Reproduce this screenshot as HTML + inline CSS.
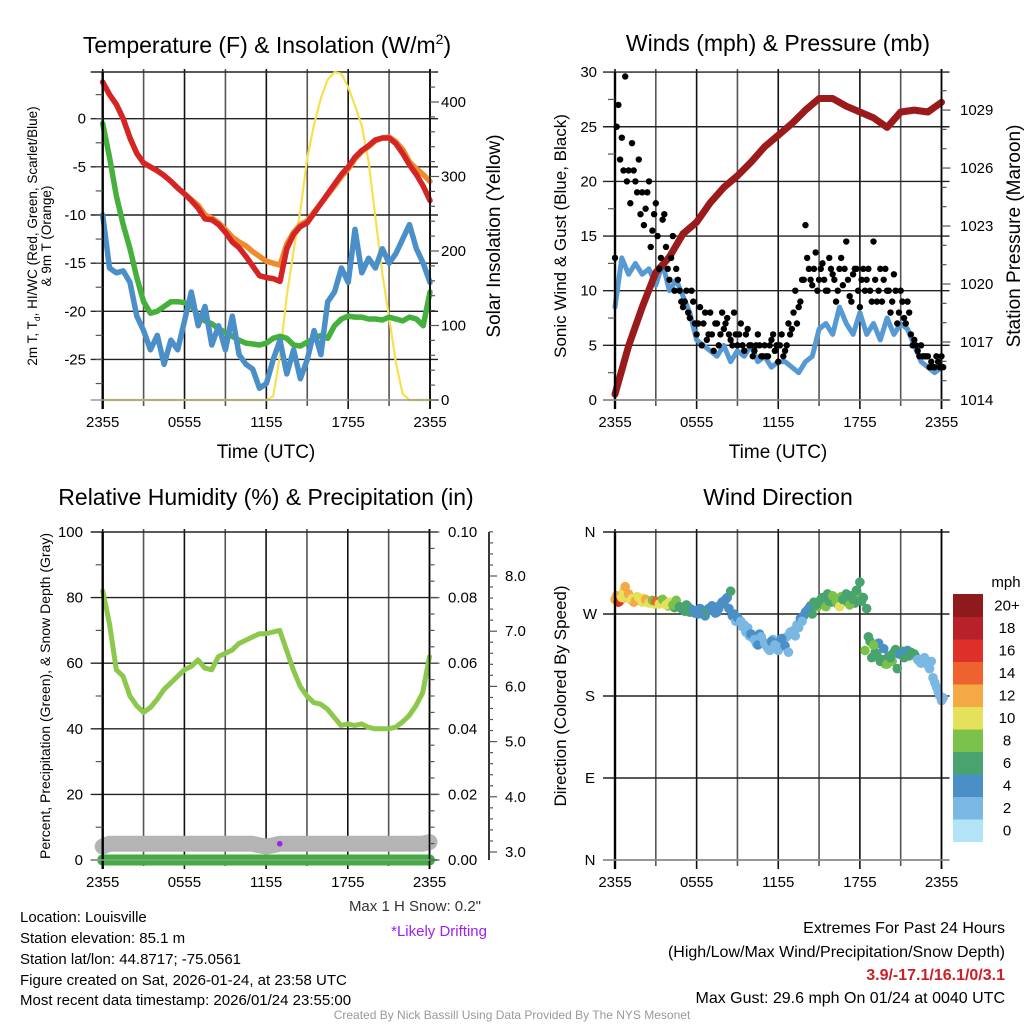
<!DOCTYPE html>
<html><head><meta charset="utf-8"><style>
html,body{margin:0;padding:0;background:#fff}
svg{display:block;font-family:"Liberation Sans",sans-serif}
</style></head><body>
<svg id="fig" width="1024" height="1024" viewBox="0 0 1024 1024" xmlns="http://www.w3.org/2000/svg">
<g id="grid"></g>
<g id="marks"></g>
<g id="axes"></g>
<g id="texts" fill="#000">
<text x="267" y="53" font-size="23" text-anchor="middle">Temperature (F) &amp; Insolation (W/m<tspan font-size="14" dy="-9">2</tspan><tspan dy="9">)</tspan></text>
<text x="778" y="51" font-size="23" text-anchor="middle">Winds (mph) &amp; Pressure (mb)</text>
<text x="266" y="505" font-size="23" text-anchor="middle">Relative Humidity (%) &amp; Precipitation (in)</text>
<text x="778" y="505" font-size="23" text-anchor="middle">Wind Direction</text>
<text x="266" y="458" font-size="19" text-anchor="middle">Time (UTC)</text>
<text x="778" y="458" font-size="19" text-anchor="middle">Time (UTC)</text>
<text transform="translate(37,236) rotate(-90)" font-size="13.5" text-anchor="middle">2m T, T<tspan font-size="8.5" dy="3">d</tspan><tspan dy="-3">, HI/WC (Red, Green, Scarlet/Blue)</tspan></text>
<text transform="translate(51,236) rotate(-90)" font-size="13.5" text-anchor="middle">&amp; 9m T (Orange)</text>
<text transform="translate(500,236) rotate(-90)" font-size="19" text-anchor="middle">Solar Insolation (Yellow)</text>
<text transform="translate(566,236) rotate(-90)" font-size="17" text-anchor="middle">Sonic Wind &amp; Gust (Blue, Black)</text>
<text transform="translate(1020,236) rotate(-90)" font-size="19" text-anchor="middle">Station Pressure (Maroon)</text>
<text transform="translate(50,696) rotate(-90)" font-size="14" text-anchor="middle">Percent, Precipitation (Green), &amp; Snow Depth (Gray)</text>
<text transform="translate(566,696) rotate(-90)" font-size="17" text-anchor="middle">Direction (Colored By Speed)</text>
<text x="481" y="911" font-size="15" fill="#333" text-anchor="end">Max 1 H Snow: 0.2"</text>
<text x="487" y="936" font-size="15" fill="#a020f0" text-anchor="end">*Likely Drifting</text>
<g font-size="15">
<text x="20" y="922">Location: Louisville</text>
<text x="20" y="943">Station elevation: 85.1 m</text>
<text x="20" y="964">Station lat/lon: 44.8717; -75.0561</text>
<text x="20" y="985">Figure created on Sat, 2026-01-24, at 23:58 UTC</text>
<text x="20" y="1005">Most recent data timestamp: 2026/01/24 23:55:00</text>
</g>
<g font-size="16" text-anchor="end">
<text x="1005" y="933">Extremes For Past 24 Hours</text>
<text x="1005" y="957">(High/Low/Max Wind/Precipitation/Snow Depth)</text>
<text x="1005" y="980" fill="#cc1f26" font-weight="bold">3.9/-17.1/16.1/0/3.1</text>
<text x="1005" y="1003">Max Gust: 29.6 mph On 01/24 at 0040 UTC</text>
</g>
<text x="512" y="1019" font-size="12" fill="#999" text-anchor="middle">Created By Nick Bassill Using Data Provided By The NYS Mesonet</text>
</g>
</svg>
<script>
// ---- data (half-hour steps, 0..24 h from 2355 UTC) ----
const timeLabels = ["2355","0555","1155","1755","2355"];
const tempRed = [3.8,2.5,1.5,0,-2,-3.6,-4.6,-5.0,-5.4,-5.9,-6.5,-7.2,-7.8,-8.5,-9.3,-10.4,-10.5,-11.0,-11.8,-12.8,-13.4,-14.3,-15.3,-16.3,-16.5,-16.6,-16.9,-13.5,-12.0,-11.2,-10.8,-9.8,-8.8,-7.8,-6.8,-5.8,-5.0,-4.0,-3.3,-2.8,-2.2,-2.0,-2.0,-2.6,-3.6,-4.8,-5.8,-7.0,-8.5];
const tempOrange = [3.8,2.5,1.5,0,-2,-3.6,-4.6,-5.0,-5.4,-5.9,-6.5,-7.2,-7.8,-8.4,-9.0,-10.0,-10.3,-10.8,-11.5,-12.3,-12.8,-13.2,-13.8,-14.3,-14.8,-15.0,-15.2,-13.0,-11.8,-11.0,-10.6,-9.7,-8.8,-7.9,-7.0,-6.0,-5.2,-4.2,-3.4,-2.9,-2.3,-2.0,-1.9,-2.4,-3.2,-4.5,-5.2,-5.8,-6.5];
const dewGreen = [-0.5,-4,-8,-11,-13.5,-16.5,-19,-20.2,-20.0,-19.5,-19.0,-19.0,-19.1,-19.4,-20.5,-21.0,-21.3,-21.8,-22.2,-22.6,-23.0,-23.3,-23.4,-23.5,-23.3,-22.8,-22.6,-22.8,-23.5,-23.6,-23.2,-22.8,-22.5,-22.8,-21.5,-20.8,-20.5,-20.6,-20.6,-20.8,-20.8,-20.9,-20.6,-20.8,-21,-20.6,-20.8,-21.5,-18];
const windChill = [-10,-15.5,-16,-15.8,-17,-20.5,-22,-24,-22.5,-25.5,-23,-24,-21,-18,-21.5,-19.5,-23.5,-21.5,-24,-20.5,-24.5,-25.5,-26,-28,-27.5,-25,-23,-26.5,-24,-27,-25,-22,-24.5,-19,-18,-15.5,-17,-11.5,-16,-14.5,-15.5,-13.5,-15,-14,-12.5,-11,-13.5,-15,-17];
const solar = [0,0,0,0,0,0,0,0,0,0,0,0,0,0,0,0,0,0,0,0,0,0,0,0,0,5,60,140,200,255,325,370,405,430,440,438,420,395,368,320,245,170,111,50,8,0,0,0,0];
const windSpeed = [8.5,13,11.5,12.5,11.5,12,10.5,12.5,10,11,9.5,8,5.5,5,4.5,4,5,3.5,4.5,4,5,3.5,4,3,3.5,3.5,3,2.5,3.5,4,6.5,7,6,8.5,7,6,8,6,7,5.5,7.5,6,7,6.5,5,3.5,3,2.5,3];
const pressure = [1014.3,1016.8,1018.8,1020.6,1021.4,1022.6,1023.2,1024.2,1025.0,1025.6,1026.3,1027.1,1027.7,1028.3,1029.0,1029.6,1029.6,1029.2,1028.9,1028.6,1028.1,1028.9,1029.0,1028.9,1029.4];
// gusts every 15 min
const gusts = [13,27,24,29.6,21,23.5,20,22,19,17.5,20,15.5,18,12,16.5,14,11,15,12,10,8.5,10,7.5,9,6,8.5,7,5.5,8,4.5,7,6,6.5,7.5,5.5,8,5,7,4.5,6.5,5,4.5,6,4,5,4,5.5,4.5,3.5,6,4.5,7,6.5,10,8.5,11,16,12,10.5,13.5,11,12.5,10,13,11.5,9,12,10.5,14.5,9.5,11.5,12,8.5,12,11,10,14.5,9,12,11,10,8,11.5,7,10,7.5,9,6,5.5,4.5,5,4,4,3.5,3,3.5,4];
const gusts2 = [25,22,21,20,18,21,19,17,16,19,14,17,15,13,17,12,13,10,11,9,9,8,10,7,7,5,8,6,6,7,5,8,7,6,5,6,6,5,6,5,4,5,5,4,4,5,6,5,5,4,5,6,8,7,9,11,13,11,12,10,12,11,10,12,11,10,13,12,11,9,12,10,11,10,12,9,11,10,9,12,10,9,10,8,9,7,8,5,5,4,4,4,3,3,4,3,3];
const relHum = [82,72,58,56,50,47,45,46.5,49,52,54,56,58,59,61,58.5,58,62,63,64,66,67,68,69,69,69.5,70,64,58,53,50,48,47.5,46,43.5,41,41.5,41,41.5,40.5,40,40,40,40.5,42,44,47,51,62];
const precip = [0,0,0,0,0,0,0,0,0,0,0,0,0,0,0,0,0,0,0,0,0,0,0,0,0,0,0,0,0,0,0,0,0,0,0,0,0,0,0,0,0,0,0,0,0,0,0,0,0];
const snowDepth = [3.1,3.15,3.15,3.15,3.15,3.15,3.15,3.15,3.15,3.15,3.15,3.15,3.15,3.15,3.15,3.15,3.15,3.15,3.15,3.15,3.15,3.15,3.15,3.12,3.1,3.12,3.15,3.15,3.15,3.15,3.15,3.15,3.15,3.15,3.15,3.15,3.15,3.15,3.15,3.15,3.15,3.15,3.15,3.15,3.15,3.15,3.15,3.15,3.18];
const driftHour = [13.0];
const driftDepth = [3.15];
// wind direction every 15 min (two interleaved sets)
const windDir = [286,283,288,300,292,287,284,288,283,286,282,285,284,281,286,280,283,280,285,278,276,280,272,274,272,276,270,273,275,278,272,280,282,288,295,270,266,262,258,255,248,242,236,245,238,232,240,236,230,243,235,228,250,246,255,262,272,276,270,280,282,288,278,284,290,284,278,286,292,280,286,296,305,288,276,240,236,225,218,232,215,222,228,210,226,222,230,228,226,220,216,222,214,218,195,185,175];
const dirSpeed = [12,17,11,12,12,11,12,10,10,12,10,9,14,10,9,10,10,9,8,7,6,6,7,4,4,4,4,6,4,4,4,4,4,5,6,4,4,2,2,3,4,3,4,3,2,2,4,3,2,4,4,3,2,2,2,3,4,4,6,6,7,6,8,6,8,8,10,6,6,8,6,6,6,6,6,6,8,6,6,4,8,6,6,6,4,6,4,6,6,2,2,2,2,2,2,2,2];
const windDir2 = [290,284,295,288,286,283,289,285,287,283,284,281,283,285,282,279,281,277,279,276,273,278,275,271,270,274,268,276,279,271,276,283,286,276,268,262,264,256,250,246,244,238,248,240,235,230,242,238,233,238,245,250,252,258,265,268,274,279,283,278,286,280,292,283,287,281,289,284,285,290,282,291,284,230,245,222,228,238,220,215,224,218,231,226,229,225,224,226,223,218,220,219,210,200,190,180,178];
const dirSpeed2 = [13,12,11,13,11,12,10,10,11,10,9,10,11,9,8,9,8,7,7,6,6,5,4,4,4,4,5,4,4,4,5,4,5,4,4,3,3,2,3,2,3,2,4,3,2,3,2,4,3,2,3,2,2,3,4,4,6,6,7,8,6,8,7,6,9,6,8,7,6,7,6,8,6,8,6,7,6,4,6,8,6,8,6,4,6,4,6,6,2,2,3,2,2,2,2,2,2];
const speedBins = ["0","2","4","6","8","10","12","14","16","18","20+"];
const binColors = ["#b3e3f7","#7ab8e3","#4a8fc6","#48a36f","#7ac24a","#e6e15a","#f5a945","#ee6230","#dc3028","#b8202a","#8f1a1c"];

const NS="http://www.w3.org/2000/svg";
function mk(tag, attrs, parent){const e=document.createElementNS(NS,tag);for(const k in attrs)e.setAttribute(k,attrs[k]);(parent||document.getElementById('marks')).appendChild(e);return e;}
const G=document.getElementById('grid'), A=document.getElementById('axes'), M=document.getElementById('marks');

const P1={x0:102.7,x1:430,y0:72,y1:400}, P2={x0:615,x1:941.5,y0:72,y1:400}, P3={x0:102.7,x1:429.5,y0:532,y1:860}, P4={x0:615,x1:941.5,y0:532,y1:860};
const xAt=(P,h)=>P.x0+(P.x1-P.x0)*h/24;
const yTemp=t=>118.7-t*9.63, ySolar=s=>400-s*0.745;
const yWind=w=>400-w*10.93, yPres=p=>400-(p-1014)*19.33;
const yRH=r=>860-r*3.28, yPrecip=p=>860-p*3280, ySnow=s=>852-(s-3)*55.2;
const yDir=d=>860-d*0.9111;

function pathFrom(arr,P,yf,step){let d='';arr.forEach((v,i)=>{d+=(i?'L':'M')+xAt(P,i*step).toFixed(1)+' '+yf(v).toFixed(1);});return d;}
function line(name,arr,P,yf,step,color,w){const e=mk('path',{d:pathFrom(arr,P,yf,step),fill:'none',stroke:color,'stroke-width':w,'stroke-linejoin':'round','stroke-linecap':'round'},M);

return e;}

function frame(P,hLines,nameP){
  for(let k=0;k<=8;k++){const x=xAt(P,k*3);const g=mk('line',{x1:x,x2:x,y1:P.y0-3,y2:P.y1+(k%2===0?9:6),stroke:k%2?'#555':'#111','stroke-width':1.6},G);
  
  }
  hLines.forEach(y=>{const g=mk('line',{x1:P.x0-12,x2:P.x1+8,y1:y,y2:y,stroke:'#222','stroke-width':1.4},G);
  
  });
  const l=mk('line',{x1:P.x0,x2:P.x0,y1:P.y0,y2:P.y1+9,stroke:'#000','stroke-width':2.4},A);
  
  
  const r=mk('line',{x1:P.x1,x2:P.x1,y1:P.y0-3,y2:P.y1+9,stroke:'#000','stroke-width':1.6},A);
  
  
  const b=mk('line',{x1:P.x0-12,x2:P.x1+8,y1:P.y1,y2:P.y1,stroke:'#999','stroke-width':1.4},A);
  
  
  timeLabels.forEach((t,k)=>{const e=mk('text',{x:xAt(P,k*6),y:P.y1+27,'font-size':15,'text-anchor':'middle'},A);e.textContent=t;
  
  });
}
function tickLabel(x,y,txt,anchor,size){const e=mk('text',{x:x,y:y+5,'font-size':size||15,'text-anchor':anchor},A);e.textContent=txt;

}
function tick(x1,x2,y){mk('line',{x1:x1,x2:x2,y1:y,y2:y,stroke:'#555','stroke-width':1.2},A);}

// Panel 1
frame(P1,[0,-5,-10,-15,-20,-25].map(yTemp).concat([72]),'temp');
[0,-5,-10,-15,-20,-25].forEach(t=>tickLabel(86,yTemp(t),String(t),'end'));
for(let t=2.5;t>-30;t-=2.5){tick(P1.x0-7,P1.x0,yTemp(t));}
for(let s=0;s<=440;s+=20){tick(P1.x1,P1.x1+(s%100===0?9:5),ySolar(s));}
[0,100,200,300,400].forEach(s=>tickLabel(441,ySolar(s),String(s),'start'));
// Panel 2
frame(P2,[0,5,10,15,20,25,30].map(yWind),'wind');
[0,5,10,15,20,25,30].forEach(w=>tickLabel(597,yWind(w),String(w),'end'));
for(let w=2.5;w<30;w+=5){tick(P2.x0-7,P2.x0,yWind(w));}
for(let p=1014;p<=1030;p+=1){tick(P2.x1,P2.x1+((p-1014)%3===0?9:5),yPres(p));}
[1014,1017,1020,1023,1026,1029].forEach(p=>tickLabel(960,yPres(p),String(p),'start'));
// Panel 3
frame(P3,[0,20,40,60,80,100].map(yRH),'humidity');
[0,20,40,60,80,100].forEach(r=>tickLabel(83,yRH(r),String(r),'end'));
for(let r=10;r<100;r+=20){tick(P3.x0-7,P3.x0,yRH(r));}
for(let p=0;p<=0.1001;p+=0.005){tick(P3.x1,P3.x1+(Math.round(p*1000)%20===0?10:5),yPrecip(p));}
["0.00","0.02","0.04","0.06","0.08","0.10"].forEach((t,k)=>tickLabel(448,yPrecip(k*0.02),t,'start'));
{const fa=mk('line',{x1:489,x2:489,y1:532,y2:860,stroke:'#222','stroke-width':1.8},A);


for(let s=3;s<=8.9;s+=0.2){tick(489,489+(Math.abs(s-Math.round(s))<0.01?8:4),ySnow(s));}
["3.0","4.0","5.0","6.0","7.0","8.0"].forEach((t,k)=>tickLabel(505,ySnow(3+k),t,'start'));}
// Panel 4
frame(P4,[0,90,180,270,360].map(yDir),'direction');
["N","E","S","W","N"].forEach((t,k)=>tickLabel(590,yDir(k*90),t,'middle'));

// ---- marks ----
line('solar-insolation-line',solar,P1,ySolar,0.5,'#f7e04e',2.2);
line('dewpoint-line',dewGreen,P1,yTemp,0.5,'#45b03c',5.5);
line('windchill-line',windChill,P1,yTemp,0.5,'#4a8fc8',5.5);
line('temp-9m-line',tempOrange,P1,yTemp,0.5,'#f08b2c',5.5);
line('temp-2m-line',tempRed,P1,yTemp,0.5,'#d42424',5.5);
line('sonic-wind-line',windSpeed,P2,yWind,0.5,'#579ad3',5);
line('pressure-line',pressure,P2,yPres,1,'#9b1a1c',7);
gusts.forEach((g,i)=>{const c=mk('circle',{cx:xAt(P2,i*0.25),cy:yWind(g),r:3.2,fill:'#000'},M);

});
gusts2.forEach((g,i)=>{const c=mk('circle',{cx:xAt(P2,i*0.25+0.125),cy:yWind(g),r:3.2,fill:'#000'},M);

});
line('snow-depth-line',snowDepth,P3,ySnow,0.5,'#b4b4b4',16);
line('precipitation-line',precip,P3,yPrecip,0.5,'#3fae3f',11);
line('relative-humidity-line',relHum,P3,yRH,0.5,'#8cc84b',5);
driftHour.forEach((h,i)=>{const c=mk('circle',{cx:xAt(P3,h),cy:ySnow(driftDepth[i]),r:2.8,fill:'#a020f0'},M);

});
function colorFor(s){let k=Math.floor(s/2);if(k>10)k=10;if(k<0)k=0;return binColors[k];}
windDir2.forEach((d,i)=>{const c=mk('circle',{cx:xAt(P4,i*0.25+0.125),cy:yDir(d),r:4.8,fill:colorFor(dirSpeed2[i])},M);

});
windDir.forEach((d,i)=>{const c=mk('circle',{cx:xAt(P4,i*0.25),cy:yDir(d),r:4.8,fill:colorFor(dirSpeed[i])},M);

});
{const cb=mk('g',{},A);


const top=594,h=22.5;
for(let k=0;k<11;k++){mk('rect',{x:953,y:top+(10-k)*h,width:30,height:h+0.5,fill:binColors[k]},cb);
const t=mk('text',{x:1007,y:top+(10-k)*h+h/2+5,'font-size':15,'text-anchor':'middle'},cb);t.textContent=speedBins[k];}
const u=mk('text',{x:1006,y:587,'font-size':15,'text-anchor':'middle'},cb);u.textContent='mph';}
</script>
</body></html>
